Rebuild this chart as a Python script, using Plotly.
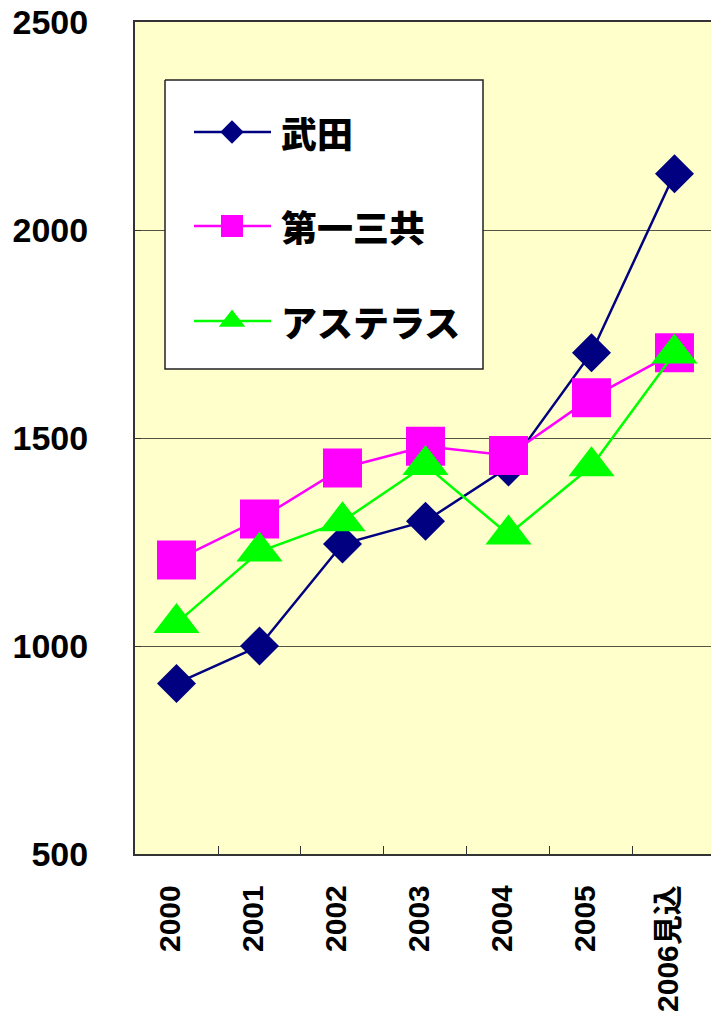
import plotly.graph_objects as go

# ---- data ----
categories = ["2000", "2001", "2002", "2003", "2004", "2005", "2006見込"]
series_names = ["武田", "第一三共", "アステラス"]
takeda = [910, 1000, 1245, 1300, 1430, 1705, 2135]
daiichi_sankyo = [1207, 1305, 1428, 1480, 1458, 1597, 1705]
astellas = [1055, 1227, 1300, 1435, 1268, 1432, 1703]
y_ticks = [500, 1000, 1500, 2000, 2500]

colors = ["#000080", "#FF00FF", "#00FF00"]
symbols = ["diamond", "square", "triangle-up"]
sizes = [30, 39, 40]
legend_sizes = [18, 22, 23]
values = [takeda, daiichi_sankyo, astellas]

W, H = 711, 1025
L, R, T, B = 135, 0, 22, 171

fig = go.Figure()

for name, vals, c, sym, sz in zip(series_names, values, colors, symbols, sizes):
    fig.add_trace(go.Scatter(
        x=categories, y=vals, name=name, mode="lines+markers",
        line=dict(color=c, width=2.5),
        marker=dict(symbol=sym, size=sz, color=c, opacity=1, line=dict(width=0)),
        showlegend=False, cliponaxis=False,
    ))

# ---- custom legend on an overlay axis in pixel units ----
box_x0, box_x1, box_y0, box_y1 = 165, 483, 80, 369
fig.add_trace(go.Scatter(
    x=[box_x0, box_x1, box_x1, box_x0, box_x0],
    y=[box_y0, box_y0, box_y1, box_y1, box_y0],
    xaxis="x2", yaxis="y2", mode="lines", fill="toself",
    fillcolor="white", line=dict(color="#222222", width=1.5),
    hoverinfo="skip", showlegend=False,
))
row_y = [132, 226, 321]
for name, c, sym, sz, ry in zip(series_names, colors, symbols, legend_sizes, row_y):
    fig.add_trace(go.Scatter(
        x=[194, 232, 271], y=[ry, ry, ry], xaxis="x2", yaxis="y2",
        mode="lines+markers", line=dict(color=c, width=2.5),
        marker=dict(symbol=sym, size=[0, sz, 0], color=c, opacity=1,
                    line=dict(width=0)),
        hoverinfo="skip", showlegend=False,
    ))
    fig.add_annotation(
        x=279, y=ry, xref="x2", yref="y2", text=name, showarrow=False,
        xanchor="left", yanchor="middle",
        font=dict(family="Noto Sans CJK JP", size=36, color="black", weight=900),
    )

# ---- x category labels (rotated) ----
for i, cat in enumerate(categories):
    fig.add_annotation(
        x=i, y=0, xref="x", yref="paper", text=cat, showarrow=False,
        textangle=-90, xanchor="center", yanchor="top", yshift=-29, xshift=-7,
        font=dict(family="Liberation Sans, Noto Sans CJK JP", size=30,
                  color="black", weight="bold"),
    )

fig.update_layout(
    width=W, height=H,
    margin=dict(l=L, r=R, t=T, b=B, pad=0, autoexpand=False),
    paper_bgcolor="white", plot_bgcolor="#FFFFCC",
    showlegend=False,
    xaxis=dict(
        type="category", categoryorder="array", categoryarray=categories,
        range=[-0.5, 6.44], showgrid=False, showticklabels=False,
        ticks="inside", tickson="boundaries", ticklen=8, tickcolor="#333333",
        showline=True, linecolor="#333333", linewidth=2, mirror=True,
        zeroline=False, automargin=False,
    ),
    yaxis=dict(
        range=[500, 2500], tickvals=y_ticks, ticktext=[str(v) for v in y_ticks],
        showgrid=True, gridcolor="#555544", gridwidth=1,
        showline=True, linecolor="#333333", linewidth=2,
        ticks="inside", ticklen=6, tickcolor="#333333",
        ticklabelstandoff=38, zeroline=False, automargin=False,
        tickfont=dict(family="Liberation Sans", size=34,
                      color="black", weight="bold"),
    ),
    xaxis2=dict(overlaying="x", anchor="y2", range=[L, W - R], visible=False,
                fixedrange=True),
    yaxis2=dict(overlaying="y", anchor="x2", range=[H - B, T], visible=False,
                fixedrange=True),
)

fig.write_html("out.html")
